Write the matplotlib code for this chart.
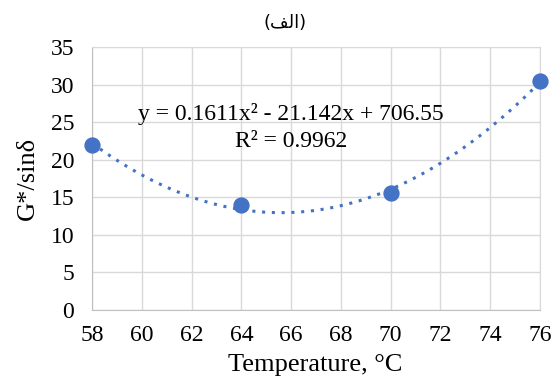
import matplotlib
matplotlib.use("Agg")
import matplotlib.pyplot as plt
import numpy as np

temps = [58, 64, 70, 76]
g_sin = [22.0, 13.9, 15.5, 30.5]
x_ticks = list(range(58, 77, 2))
y_ticks = list(range(0, 36, 5))
# (الف) written in shaped presentation forms, visual order
title_txt = "(\ufed2\ufedf\ufe8d)"

plt.rcParams["font.family"] = ["Liberation Serif", "DejaVu Sans"]
BLUE = "#4472C4"
GRID = "#D9D9D9"

fig = plt.figure(figsize=(5.55, 3.76), dpi=100)
ax = fig.add_axes([0.166, 0.176, 0.807, 0.699])

coef = np.polyfit(temps, g_sin, 2)
xs = np.linspace(58, 76, 200)
ax.plot(xs, np.polyval(coef, xs), linestyle=(0, (1, 2.2)), color=BLUE, lw=2.2)
ax.scatter(temps, g_sin, s=115, color=BLUE, zorder=3, clip_on=False)

ax.set_xlim(58, 76)
ax.set_ylim(0, 35)
ax.set_xticks(x_ticks)
ax.set_yticks(y_ticks)
ax.grid(True, color=GRID, lw=1)
ax.set_axisbelow(True)
for s in ax.spines.values():
    s.set_color(GRID)
ax.spines["left"].set_color("#BFBFBF")
ax.spines["bottom"].set_color("#BFBFBF")
ax.tick_params(length=0, labelsize=17)
ax.tick_params(axis="x", pad=11)
ax.tick_params(axis="y", pad=13)
ax.set_xlabel("Temperature, °C", fontsize=19)
ax.set_ylabel("G*/sinδ", fontsize=19)
ax.xaxis.set_label_coords(0.497, -0.168)
ax.yaxis.set_label_coords(-0.12, 0.5)

ax.text(66, 25.3, "y = 0.1611x² - 21.142x + 706.55", fontsize=17,
        ha="center", va="baseline")
ax.text(66, 21.7, "R² = 0.9962", fontsize=17, ha="center", va="baseline")

fig.text(0.514, 0.938, title_txt, fontsize=13, ha="center", va="center",
         family="DejaVu Sans")

fig.savefig("out.png", dpi=100)
